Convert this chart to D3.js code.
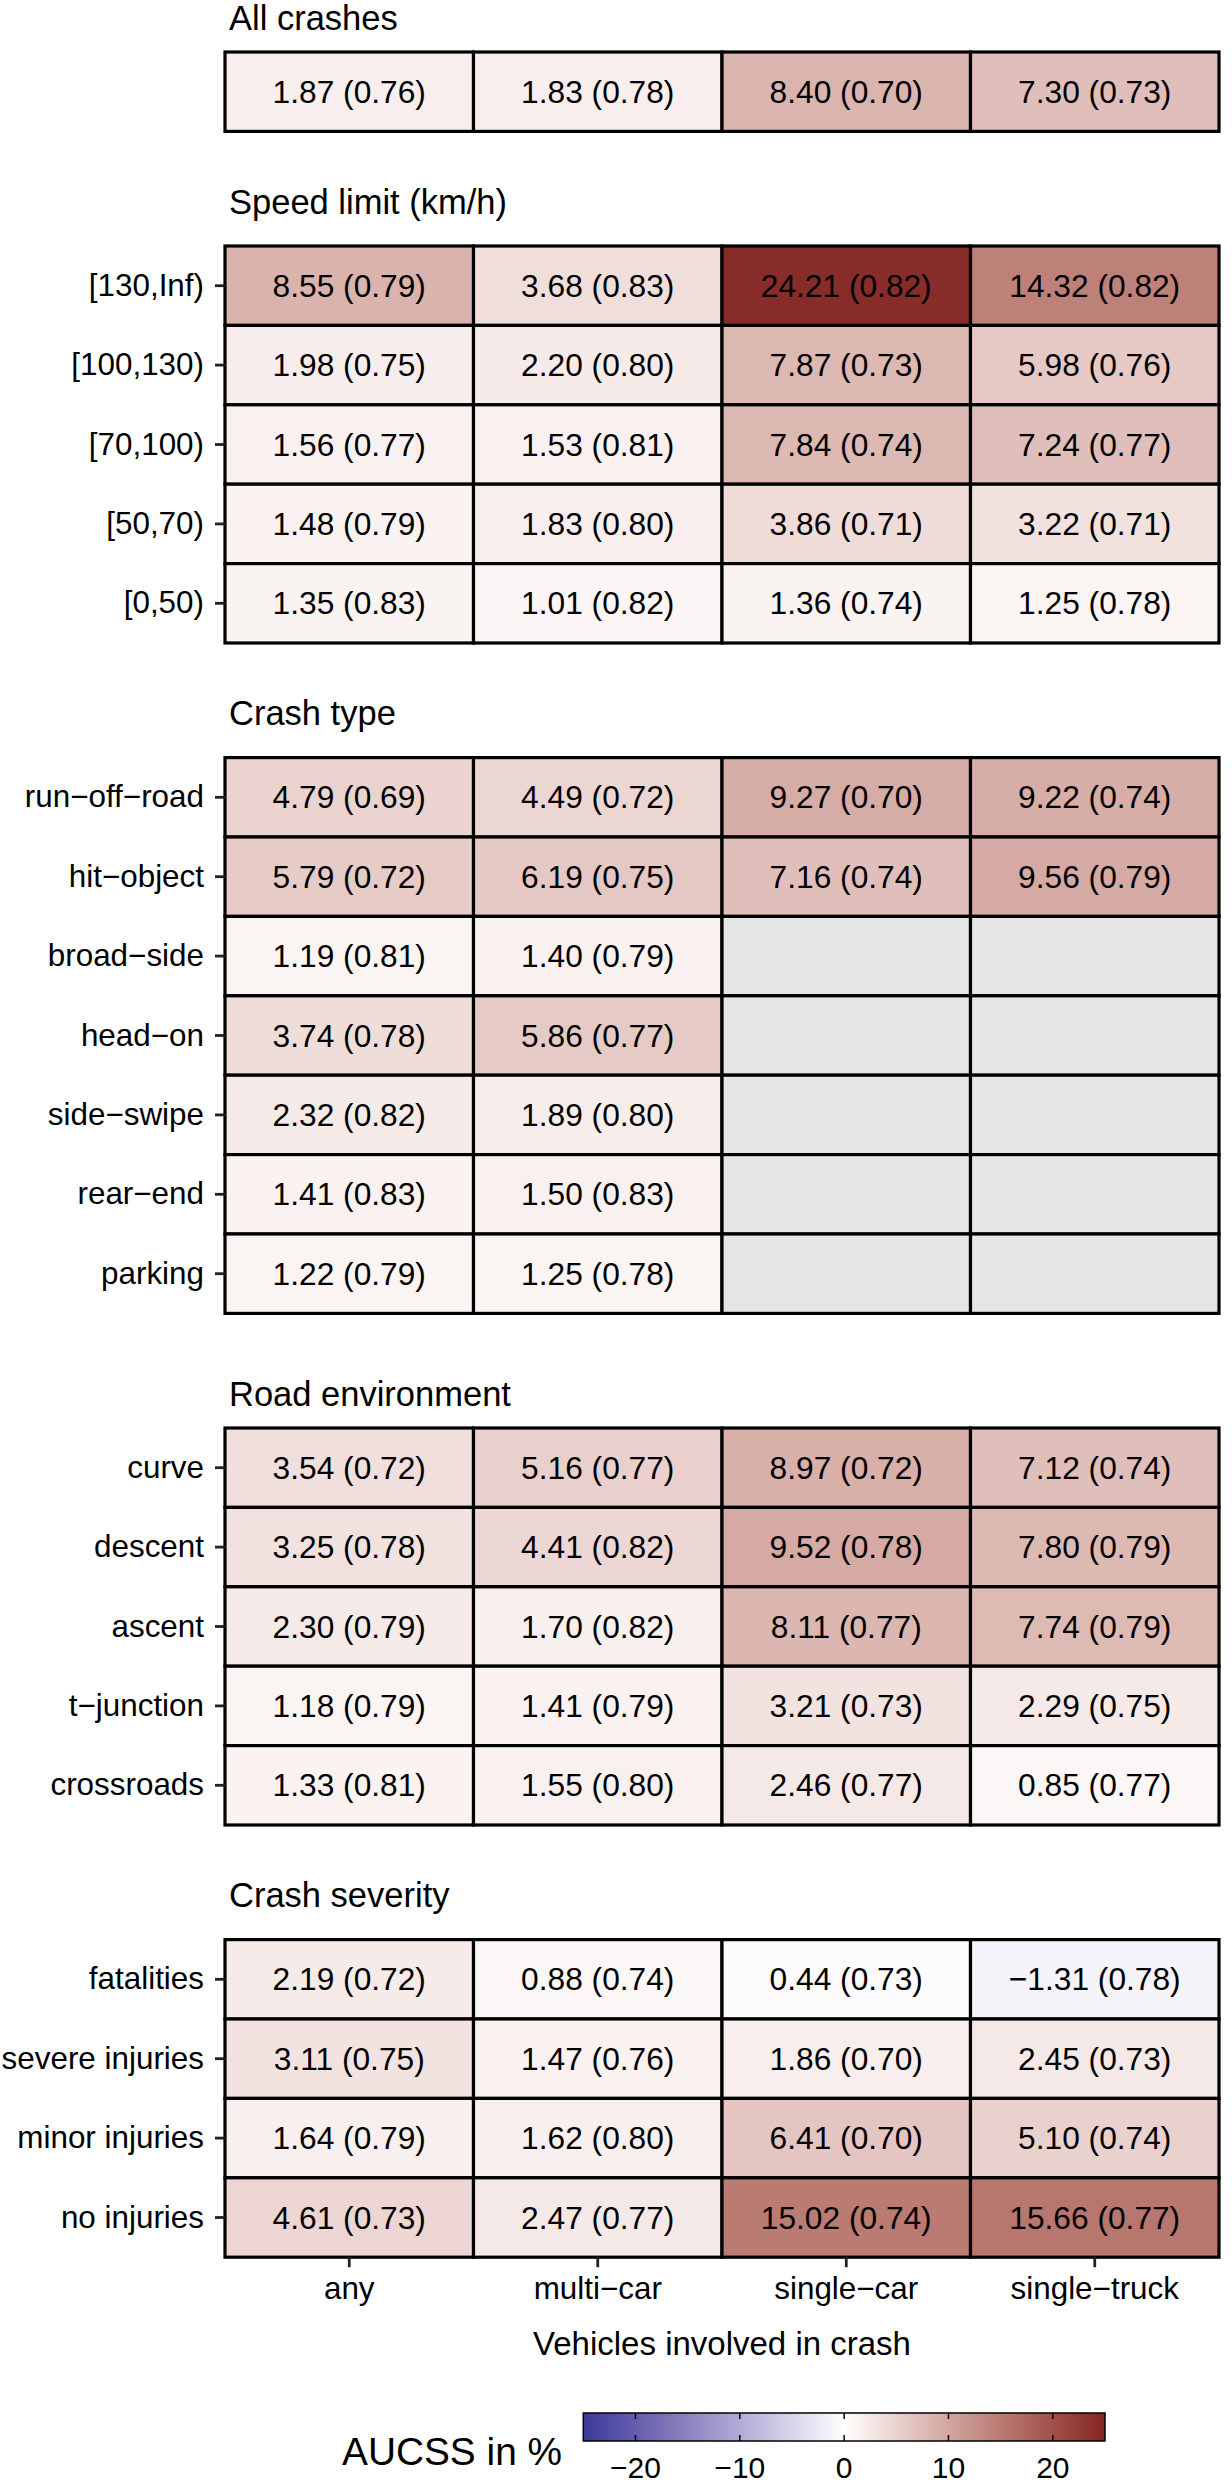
<!DOCTYPE html>
<html>
<head>
<meta charset="utf-8">
<script src="https://cdn.jsdelivr.net/npm/d3@7"></script>
<style>
body{margin:0;background:#fff;}
svg{display:block;font-family:"Liberation Sans",Arial,Helvetica,sans-serif;}
</style>
</head>
<body>
<div id="chart"></div>
<script>
// columns (vehicles involved)
var vehicles = ["any", "multi−car", "single−car", "single−truck"];

var groupTitles = ["All crashes", "Speed limit (km/h)", "Crash type", "Road environment", "Crash severity"];

// AUCSS in % and AUC (in brackets), one row per category, columns as in vehicles
var allRows = ["all"];
var allAucss = [[1.87, 1.83, 8.40, 7.30]];
var allAuc   = [[0.76, 0.78, 0.70, 0.73]];

var speedRows = ["[130,Inf)", "[100,130)", "[70,100)", "[50,70)", "[0,50)"];
var speedAucss = [
  [8.55, 3.68, 24.21, 14.32],
  [1.98, 2.20, 7.87, 5.98],
  [1.56, 1.53, 7.84, 7.24],
  [1.48, 1.83, 3.86, 3.22],
  [1.35, 1.01, 1.36, 1.25]
];
var speedAuc = [
  [0.79, 0.83, 0.82, 0.82],
  [0.75, 0.80, 0.73, 0.76],
  [0.77, 0.81, 0.74, 0.77],
  [0.79, 0.80, 0.71, 0.71],
  [0.83, 0.82, 0.74, 0.78]
];

var typeRows = ["run−off−road", "hit−object", "broad−side", "head−on", "side−swipe", "rear−end", "parking"];
var typeAucss = [
  [4.79, 4.49, 9.27, 9.22],
  [5.79, 6.19, 7.16, 9.56],
  [1.19, 1.40, null, null],
  [3.74, 5.86, null, null],
  [2.32, 1.89, null, null],
  [1.41, 1.50, null, null],
  [1.22, 1.25, null, null]
];
var typeAuc = [
  [0.69, 0.72, 0.70, 0.74],
  [0.72, 0.75, 0.74, 0.79],
  [0.81, 0.79, null, null],
  [0.78, 0.77, null, null],
  [0.82, 0.80, null, null],
  [0.83, 0.83, null, null],
  [0.79, 0.78, null, null]
];

var roadRows = ["curve", "descent", "ascent", "t−junction", "crossroads"];
var roadAucss = [
  [3.54, 5.16, 8.97, 7.12],
  [3.25, 4.41, 9.52, 7.80],
  [2.30, 1.70, 8.11, 7.74],
  [1.18, 1.41, 3.21, 2.29],
  [1.33, 1.55, 2.46, 0.85]
];
var roadAuc = [
  [0.72, 0.77, 0.72, 0.74],
  [0.78, 0.82, 0.78, 0.79],
  [0.79, 0.82, 0.77, 0.79],
  [0.79, 0.79, 0.73, 0.75],
  [0.81, 0.80, 0.77, 0.77]
];

var severityRows = ["fatalities", "severe injuries", "minor injuries", "no injuries"];
var severityAucss = [
  [2.19, 0.88, 0.44, -1.31],
  [3.11, 1.47, 1.86, 2.45],
  [1.64, 1.62, 6.41, 5.10],
  [4.61, 2.47, 15.02, 15.66]
];
var severityAuc = [
  [0.72, 0.74, 0.73, 0.78],
  [0.75, 0.76, 0.70, 0.73],
  [0.79, 0.80, 0.70, 0.74],
  [0.73, 0.77, 0.74, 0.77]
];

var legendTicks = [-20, -10, 0, 10, 20];
var legendLimits = [-25, 25];

var groups = [
  {title: groupTitles[0], rows: allRows, aucss: allAucss, auc: allAuc, axis: false},
  {title: groupTitles[1], rows: speedRows, aucss: speedAucss, auc: speedAuc, axis: true},
  {title: groupTitles[2], rows: typeRows, aucss: typeAucss, auc: typeAuc, axis: true},
  {title: groupTitles[3], rows: roadRows, aucss: roadAucss, auc: roadAuc, axis: true},
  {title: groupTitles[4], rows: severityRows, aucss: severityAucss, auc: severityAuc, axis: true}
];

var W = 1232, H = 2484;
var rowH = 79.4, gap = 114.6;
var svg = d3.select("#chart").append("svg").attr("width", W).attr("height", H);

var x = d3.scaleBand().domain(vehicles).range([225, 1219]);
// ggplot gradient2 with muted blue / white / muted red, Lab interpolation
var color = d3.scaleLinear()
  .domain([legendLimits[0], 0, legendLimits[1]])
  .range(["#3A3A98", "#ffffff", "#832424"])
  .interpolate(d3.interpolateLab)
  .clamp(true);
var fmt = d3.format(".2f");

var panelTop = 52, panelBottom = 0;
groups.forEach(function(g) {
  var y = d3.scaleBand().domain(g.rows).range([panelTop, panelTop + g.rows.length * rowH]);
  var panel = svg.append("g");

  // titles with descenders sit a bit higher (text box includes the descent)
  var hasDescender = /[gjpqy()]/.test(g.title);
  panel.append("text")
    .attr("x", 229)
    .attr("y", panelTop - (hasDescender ? 32.5 : 22.5))
    .style("font-size", "34.5px")
    .text(g.title);

  var cells = [];
  g.rows.forEach(function(r, i) {
    vehicles.forEach(function(v, j) {
      cells.push({row: r, col: v, val: g.aucss[i][j], auc: g.auc[i][j]});
    });
  });

  panel.selectAll("rect.cell")
    .data(cells)
    .enter().append("rect")
    .attr("class", "cell")
    .attr("x", function(d) { return x(d.col); })
    .attr("y", function(d) { return y(d.row); })
    .attr("width", x.bandwidth())
    .attr("height", y.bandwidth())
    .style("fill", function(d) { return d.val == null ? "#e5e5e5" : color(d.val); })
    .style("stroke", "#000")
    .style("stroke-width", 3.2);

  panel.selectAll("text.lab")
    .data(cells.filter(function(d) { return d.val != null; }))
    .enter().append("text")
    .attr("class", "lab")
    .attr("x", function(d) { return x(d.col) + x.bandwidth() / 2; })
    .attr("y", function(d) { return y(d.row) + y.bandwidth() / 2; })
    .attr("dy", "0.35em")
    .attr("text-anchor", "middle")
    .style("font-size", "31.7px")
    .text(function(d) { return fmt(d.val) + " (" + fmt(d.auc) + ")"; });

  if (g.axis) {
    var ax = panel.append("g")
      .attr("transform", "translate(225,0)")
      .call(d3.axisLeft(y).tickSize(10).tickPadding(11));
    ax.select(".domain").remove();
    ax.selectAll(".tick line").style("stroke", "#222").style("stroke-width", 2.8);
    ax.selectAll(".tick text")
      .style("font-size", "31.4px")
      .style("font-family", "'Liberation Sans',Arial,Helvetica,sans-serif")
      .style("fill", "#000");
  }

  panelBottom = panelTop + g.rows.length * rowH;
  panelTop = panelBottom + gap;
});

// x axis under the last panel
var xa = svg.append("g")
  .attr("transform", "translate(0," + panelBottom + ")")
  .call(d3.axisBottom(x).tickSize(10).tickPadding(10));
xa.select(".domain").remove();
xa.selectAll(".tick line").style("stroke", "#222").style("stroke-width", 2.8);
xa.selectAll(".tick text")
  .style("font-size", "31.4px")
  .style("font-family", "'Liberation Sans',Arial,Helvetica,sans-serif")
  .style("fill", "#000");

svg.append("text")
  .attr("x", 722)
  .attr("y", 2355)
  .attr("text-anchor", "middle")
  .style("font-size", "33px")
  .text("Vehicles involved in crash");

// colour bar legend
var lx = d3.scaleLinear().domain(legendLimits).range([583.3, 1105]);
var barTop = 2413, barH = 28;
var grad = svg.append("defs").append("linearGradient")
  .attr("id", "aucssGrad")
  .attr("x1", "0%").attr("x2", "100%").attr("y1", "0%").attr("y2", "0%");
grad.selectAll("stop")
  .data(d3.range(0, 1.0001, 0.02))
  .enter().append("stop")
  .attr("offset", function(t) { return (t * 100) + "%"; })
  .style("stop-color", function(t) { return color(legendLimits[0] + t * (legendLimits[1] - legendLimits[0])); });

svg.append("rect")
  .attr("x", lx(legendLimits[0]))
  .attr("y", barTop)
  .attr("width", lx(legendLimits[1]) - lx(legendLimits[0]))
  .attr("height", barH)
  .style("fill", "url(#aucssGrad)")
  .style("stroke", "#000")
  .style("stroke-width", 1.5);

var lt = svg.append("g");
lt.selectAll("line.top")
  .data(legendTicks).enter().append("line")
  .attr("class", "top")
  .attr("x1", lx).attr("x2", lx)
  .attr("y1", barTop).attr("y2", barTop + 6)
  .style("stroke", "#000").style("stroke-width", 1.5);
lt.selectAll("line.bot")
  .data(legendTicks).enter().append("line")
  .attr("class", "bot")
  .attr("x1", lx).attr("x2", lx)
  .attr("y1", barTop + barH - 6).attr("y2", barTop + barH)
  .style("stroke", "#000").style("stroke-width", 1.5);
lt.selectAll("text")
  .data(legendTicks).enter().append("text")
  .attr("x", lx)
  .attr("y", 2478)
  .attr("text-anchor", "middle")
  .style("font-size", "30px")
  .text(d3.format("d"));

svg.append("text")
  .attr("x", 562)
  .attr("y", 2465)
  .attr("text-anchor", "end")
  .style("font-size", "38.8px")
  .text("AUCSS in %");
</script>
</body>
</html>
